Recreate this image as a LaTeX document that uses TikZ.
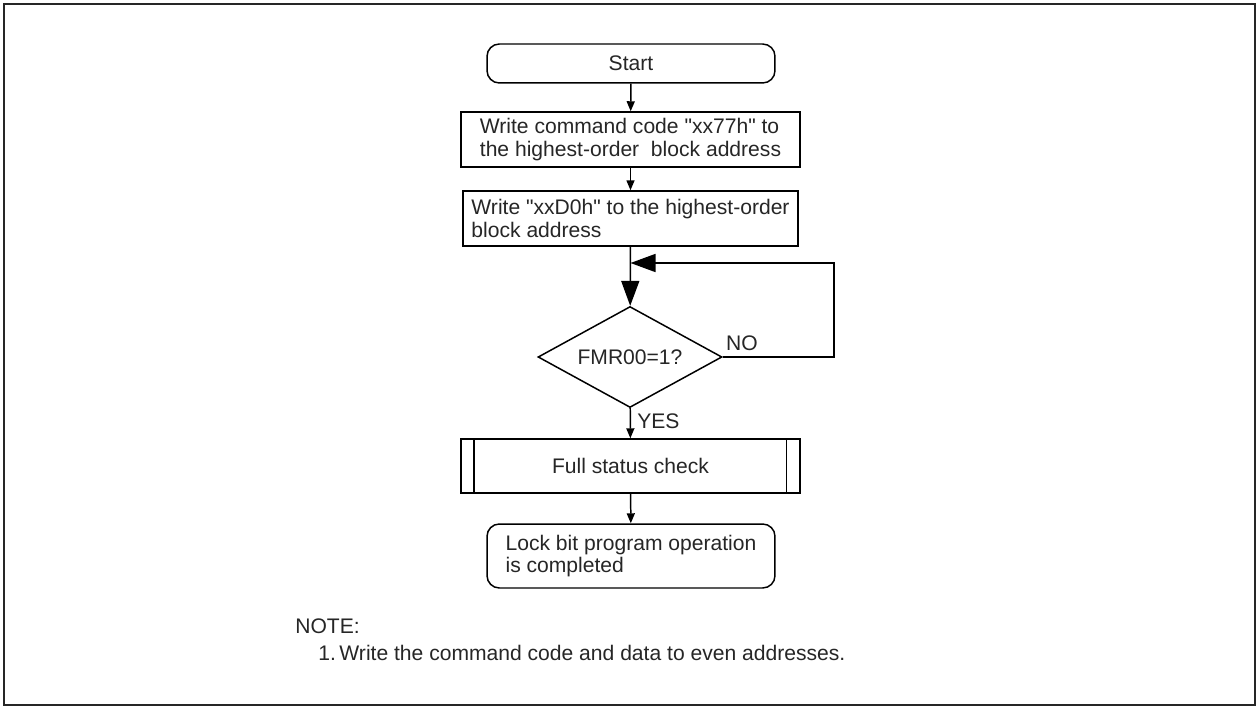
\documentclass[tikz,border=0pt]{standalone}
\usepackage{fontspec}
\setmainfont{Liberation Sans}[Ligatures=TeXOff]
\usetikzlibrary{shapes.geometric,arrows.meta}
\begin{document}
\begin{tikzpicture}[x=0.02cm,y=-0.02cm,
    every node/.style={font=\fontsize{12}{13}\selectfont,text=black!85},
    box/.style={draw,line width=0.85pt,align=left,inner sep=0pt},
    rbox/.style={box,rounded corners=7pt},
    smallarr/.style={line width=0.85pt,-{Triangle[length=0.2cm,width=0.16cm]}},
    bigarr/.style={line width=0.85pt,-{Triangle[length=0.5cm,width=0.36cm]}}]
      \useasboundingbox (0,0) rectangle (1257,706);
      \draw[line width=1.5pt,black!85] (4,4) rectangle (1255,705);
      \node[rbox,minimum width=5.76cm,minimum height=0.78cm] (start) at (631,63.5) {Start};
      \node[box,minimum width=6.78cm,minimum height=1.1cm] (wcmd) at (630.5,139.5)
        {Write command code "xx77h" to\\the highest-order~ block address};
      \node[box,minimum width=6.7cm,minimum height=1.1cm] (wd0) at (630.5,218.5)
        {Write "xxD0h" to the highest-order\\block address};
      \node[draw,diamond,line width=0.85pt,aspect=1.8,inner sep=0pt,
            minimum width=3.68cm,minimum height=2.02cm] (fmr) at (630,357) {FMR00=1?};
      \node[box,align=center,minimum width=6.78cm,minimum height=1.08cm] (full) at (630.5,466)
        {Full status check};
      \draw[line width=0.85pt] ([xshift=0.27cm]full.north west) -- ([xshift=0.27cm]full.south west);
      \draw[line width=0.85pt] ([xshift=-0.28cm]full.north east) -- ([xshift=-0.28cm]full.south east);
      \node[rbox,minimum width=5.76cm,minimum height=1.28cm] (done) at (631,556)
        {Lock bit program operation\\is completed};
      % connectors
      \draw[smallarr] (start) -- (wcmd);
      \draw[smallarr] (wcmd) -- (wd0);
      \draw[bigarr] (wd0) -- (fmr);
      \coordinate (loop) at (834,263);
      \draw[bigarr] (fmr.east) -| (loop) -- (wd0.south |- loop);
      \draw[smallarr] (fmr) -- (full);
      \draw[smallarr] (full) -- (done);
      \node[anchor=base west,inner sep=0pt] (no) at ([shift={(3,-7)}]fmr.east) {NO};
      \node[anchor=base west,inner sep=0pt] (yes) at ([shift={(7,20)}]fmr.south) {YES};
      % note
      \node[anchor=base west,inner sep=0pt] (note) at (295,633) {NOTE:};
      \node[anchor=base west,inner sep=0pt] (note1) at (318,660)
        {1.\,Write the command code and data to even addresses.};
    \end{tikzpicture}
\end{document}
